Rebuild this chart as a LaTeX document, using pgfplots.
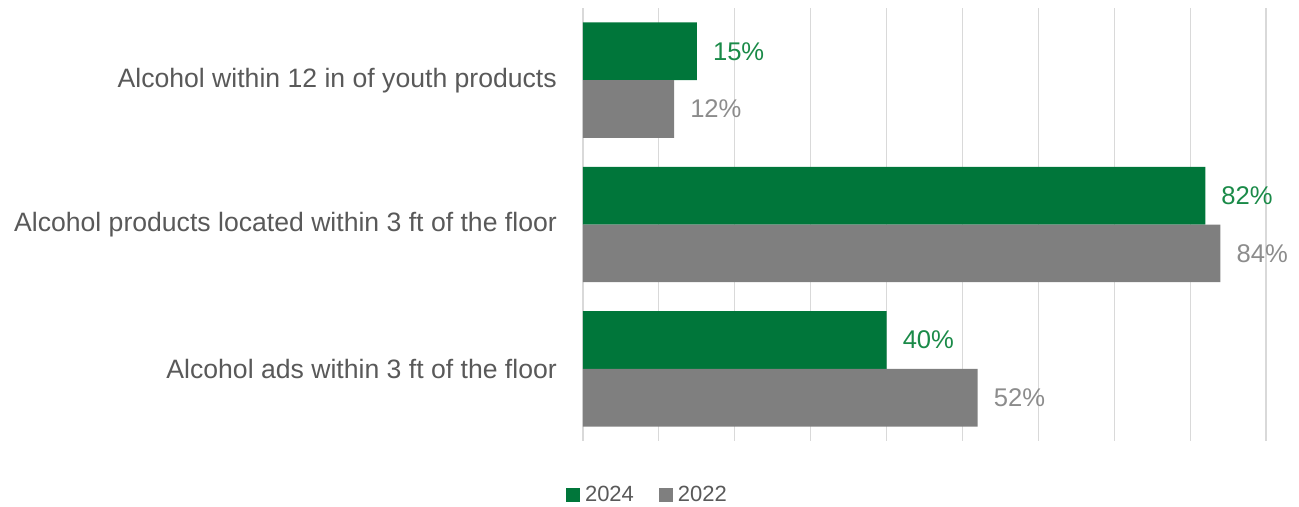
\documentclass[border=0pt]{standalone}
\usepackage{pgfplots}
\pgfplotsset{compat=1.18}
\usepackage{fontspec}
\setmainfont{Liberation Sans}
\definecolor{bargreen}{HTML}{00763A}
\definecolor{bargray}{HTML}{7F7F7F}
\definecolor{labgreen}{HTML}{1A8A48}
\definecolor{labgray}{HTML}{8C8C8C}
\definecolor{cattext}{HTML}{595959}
\definecolor{gridc}{HTML}{D9D9D9}
\begin{document}
\begin{tikzpicture}
\begin{axis}[
  name=ax,
  scale only axis,
  width=683bp, height=433bp,
  xbar, bar width=0.4,
  xmin=0, xmax=90, ymin=-0.5, ymax=2.5,
  y dir=reverse,
  enlargelimits=false,
  axis line style={draw=none},
  xtick={0,10,...,90}, xticklabels={},
  xmajorgrids, major grid style={gridc, line width=1.2bp},
  ytick={0,1,2},
  yticklabels={Alcohol within 12 in of youth products, Alcohol products located within 3 ft of the floor, Alcohol ads within 3 ft of the floor},
  major tick length=0pt,
  yticklabel style={font=\fontsize{26.6bp}{31bp}\selectfont, text=cattext, inner sep=0pt, xshift=-26bp},
  point meta=x,
  /pgf/number format/assume math mode=true,
  nodes near coords={\pgfmathprintnumber{\pgfplotspointmeta}\%},
  nodes near coords style={font=\fontsize{25.6bp}{30bp}\selectfont, anchor=west, inner sep=0pt, xshift=16bp},
  legend columns=2,
  legend style={draw=none, fill=none, at={(0.0966,-0.1247)}, anchor=center,
    font=\fontsize{22bp}{26bp}\selectfont, text=cattext,
    /tikz/every even column/.append style={column sep=20bp},
    nodes={inner xsep=5bp, inner ysep=1bp}},
  legend image code/.code={\fill[#1] (0bp,-7bp) rectangle (14bp,7bp);},
]
\addplot[fill=bargreen, draw=none, bar shift=-0.2, every node near coord/.append style={text=labgreen}]
  coordinates {(15,0) (82,1) (40,2)};
\addlegendentry{2024}
\addplot[fill=bargray, draw=none, bar shift=0.2, every node near coord/.append style={text=labgray}]
  coordinates {(12,0) (84,1) (52,2)};
\addlegendentry{2022}
\end{axis}
\path ([xshift=-583bp,yshift=-66bp]ax.south west) rectangle ([xshift=33bp,yshift=8bp]ax.north east);
\end{tikzpicture}
\end{document}
